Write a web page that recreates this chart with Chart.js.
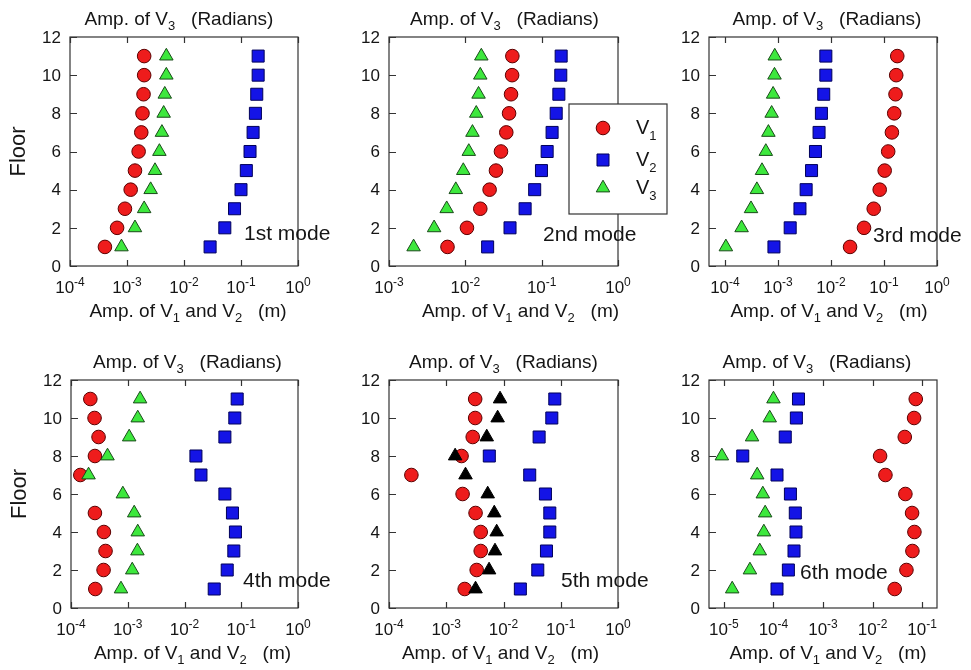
<!DOCTYPE html>
<html>
<head>
<meta charset="utf-8">
<script src="https://cdn.jsdelivr.net/npm/chart.js@4/dist/chart.umd.min.js"></script>
<style>
	html, body { margin: 0; padding: 0; background: #fff; overflow: hidden; }
	#wrap { position: relative; width: 971px; height: 670px; }
	canvas { position: absolute; }
</style>
</head>
<body>
<div id="wrap"></div>
<script>
// floors, bottom to top
const floors = [1, 2, 3, 4, 5, 6, 7, 8, 9, 10, 11]

// 1st mode
const m1V1 = [4.1e-4, 6.7e-4, 9.2e-4, 1.16e-3, 1.38e-3, 1.6e-3, 1.78e-3, 1.87e-3, 1.95e-3, 2.0e-3, 2.0e-3]
const m1V2 = [0.0287, 0.052, 0.077, 0.100, 0.124, 0.144, 0.163, 0.179, 0.189, 0.200, 0.200]
const m1V3 = [8.0e-4, 1.38e-3, 2.0e-3, 2.6e-3, 3.1e-3, 3.7e-3, 4.1e-3, 4.4e-3, 4.6e-3, 4.9e-3, 4.9e-3]

// 2nd mode
const m2V1 = [0.00584, 0.0105, 0.0157, 0.0208, 0.0252, 0.0293, 0.0344, 0.0374, 0.0397, 0.041, 0.0413]
const m2V2 = [0.0196, 0.0385, 0.0607, 0.081, 0.0994, 0.118, 0.137, 0.155, 0.168, 0.178, 0.180]
const m2V3 = [0.0021, 0.0039, 0.0057, 0.0075, 0.0094, 0.0111, 0.0124, 0.0139, 0.0149, 0.0157, 0.0162]

// 3rd mode
const m3V1 = [0.0229, 0.042, 0.064, 0.083, 0.103, 0.12, 0.141, 0.156, 0.165, 0.17, 0.178]
const m3V2 = [8.4e-4, 1.7e-3, 2.6e-3, 3.4e-3, 4.3e-3, 5.1e-3, 5.96e-3, 6.6e-3, 7.3e-3, 8.0e-3, 8.0e-3]
const m3V3 = [1.04e-4, 2.06e-4, 3.1e-4, 4.0e-4, 5.0e-4, 5.9e-4, 6.6e-4, 7.6e-4, 8.1e-4, 8.6e-4, 8.7e-4]

// 4th mode (floor 6 V1 is off the scale)
const m4V1 = [2.68e-4, 3.75e-4, 4.06e-4, 3.8e-4, 2.64e-4, null, 1.46e-4, 2.64e-4, 3.06e-4, 2.6e-4, 2.19e-4]
const m4V2 = [0.0334, 0.0566, 0.074, 0.079, 0.070, 0.0515, 0.0195, 0.0159, 0.0515, 0.077, 0.0848]
const m4V3 = [7.6e-4, 1.2e-3, 1.48e-3, 1.5e-3, 1.3e-3, 8.2e-4, 2.04e-4, 4.4e-4, 1.06e-3, 1.5e-3, 1.65e-3]

// 5th mode
const m5V1 = [2.1e-3, 3.4e-3, 4.0e-3, 4.0e-3, 3.25e-3, 1.93e-3, 2.46e-4, 1.85e-3, 2.9e-3, 3.2e-3, 3.2e-3]
const m5V2 = [0.0197, 0.0397, 0.0563, 0.0644, 0.0644, 0.054, 0.0287, 5.65e-3, 0.0419, 0.0698, 0.0787]
const m5V3 = [3.25e-3, 5.6e-3, 7.1e-3, 7.6e-3, 6.9e-3, 5.3e-3, 2.17e-3, 1.43e-3, 5.1e-3, 7.9e-3, 8.7e-3]

// 6th mode
const m6V1 = [0.028, 0.0483, 0.0638, 0.07, 0.0628, 0.046, 0.0182, 0.0142, 0.0447, 0.069, 0.0745]
const m6V2 = [1.18e-4, 2.0e-4, 2.6e-4, 2.85e-4, 2.76e-4, 2.2e-4, 1.18e-4, 2.4e-5, 1.73e-4, 2.9e-4, 3.2e-4]
const m6V3 = [1.47e-5, 3.35e-5, 5.3e-5, 6.4e-5, 6.8e-5, 6.1e-5, 4.7e-5, 9.1e-6, 3.7e-5, 8.4e-5, 1.0e-4]

const v1Series = [m1V1, m2V1, m3V1, m4V1, m5V1, m6V1]
const v2Series = [m1V2, m2V2, m3V2, m4V2, m5V2, m6V2]
const v3Series = [m1V3, m2V3, m3V3, m4V3, m5V3, m6V3]

const modeNames = ["1st mode", "2nd mode", "3rd mode", "4th mode", "5th mode", "6th mode"]
const xMins = [1e-4, 1e-3, 5e-5, 1e-4, 1e-4, 5e-6]
const xMaxs = [1, 1, 1, 1, 1, 0.2]
const xTickExps = [
	[-4, -3, -2, -1, 0],
	[-3, -2, -1, 0],
	[-4, -3, -2, -1, 0],
	[-4, -3, -2, -1, 0],
	[-4, -3, -2, -1, 0],
	[-5, -4, -3, -2, -1]
]
const yTickLabels = [0, 2, 4, 6, 8, 10, 12]
const legendLabels = ["1", "2", "3"] // subscripts of V

// layout: plot boxes [left, top, right, bottom] in page pixels
const plotBoxes = [
	[70, 37, 298, 266], [389, 37, 618, 266], [709, 37, 937, 266],
	[71, 380, 298, 608], [389, 380, 618, 608], [709, 380, 937, 608]
]
const topTitleShift = [-5, 1, 4, 3, 0, -6]
const bottomTitleShift = [4, 17, 6, 8, -3, 5]
const modeLabelPos = [[54, 26], [75, 25], [64, 24], [55, 21], [57, 21], [137, 29]] // from right, from bottom

const FONT = '"Liberation Sans", Arial, sans-serif'
const INK = "#151515"
const CANVAS_W = 350
const CANVAS_H = 324

const RED = { fill: "#ee1c1c", line: "#5a0000" }
const BLUE = { fill: "#1414e6", line: "#00005a" }
const GREEN = { fill: "#3de83d", line: "#1a4a1a" }
const BLACK = { fill: "#000000", line: "#000000" }

function toPoints(values) {
	let pts = []
	values.forEach((v, k) => {
		if (v !== null) pts.push({ x: v, y: floors[k] })
	})
	return pts
}

// draws text made of pieces, some of them sub/superscripts
function richText(ctx, parts, x, y, align) {
	let total = 0
	parts.forEach(p => {
		ctx.font = p.size + "px " + FONT
		p.w = ctx.measureText(p.text).width
		total += p.w
	})
	let cx = align === "center" ? x - total / 2 : (align === "right" ? x - total : x)
	ctx.textAlign = "left"
	ctx.textBaseline = "alphabetic"
	parts.forEach(p => {
		ctx.font = p.size + "px " + FONT
		ctx.fillText(p.text, cx, y + (p.dy || 0))
		cx += p.w
	})
}

function decorFor(i) {
	return {
		id: "decor" + i,
		beforeDatasetsDraw(chart) {
			const { ctx, chartArea: a, scales: { x, y } } = chart
			ctx.save()
			ctx.strokeStyle = "#333"
			ctx.lineWidth = 1.2
			ctx.strokeRect(a.left, a.top, a.right - a.left, a.bottom - a.top)
			ctx.beginPath()
			xTickExps[i].forEach(e => {
				const px = Math.round(x.getPixelForValue(Math.pow(10, e))) + 0.5
				ctx.moveTo(px, a.bottom)
				ctx.lineTo(px, a.bottom - 6)
				ctx.moveTo(px, a.top)
				ctx.lineTo(px, a.top + 6)
			})
			yTickLabels.forEach(v => {
				const py = Math.round(y.getPixelForValue(v)) + 0.5
				ctx.moveTo(a.left, py)
				ctx.lineTo(a.left + 7, py)
			})
			ctx.stroke()
			ctx.restore()
		},
		afterDraw(chart) {
			const { ctx, chartArea: a, scales: { x, y } } = chart
			ctx.save()
			ctx.fillStyle = INK

			// y tick labels
			ctx.font = "17px " + FONT
			ctx.textAlign = "right"
			ctx.textBaseline = "middle"
			yTickLabels.forEach(v => {
				ctx.fillText(String(v), a.left - 9, y.getPixelForValue(v) + 1)
			})

			// x tick labels 10^n
			xTickExps[i].forEach(e => {
				const px = x.getPixelForValue(Math.pow(10, e))
				richText(ctx, [
					{ text: "10", size: 17 },
					{ text: e === 0 ? "0" : "-" + Math.abs(e), size: 12, dy: -7 }
				], px, a.bottom + 27, "center")
			})

			const cx = (a.left + a.right) / 2
			// top axis title
			richText(ctx, [
				{ text: "Amp. of V", size: 19 },
				{ text: "3", size: 13, dy: 5 },
				{ text: "   (Radians)", size: 19 }
			], cx + topTitleShift[i], a.top - 12, "center")

			// bottom axis title
			richText(ctx, [
				{ text: "Amp. of V", size: 19 },
				{ text: "1", size: 13, dy: 5 },
				{ text: " and V", size: 19 },
				{ text: "2", size: 13, dy: 5 },
				{ text: "   (m)", size: 19 }
			], cx + bottomTitleShift[i], a.bottom + 51, "center")

			// y axis title on the left column
			if (i % 3 === 0) {
				ctx.save()
				ctx.translate(a.left - 51, (a.top + a.bottom) / 2)
				ctx.rotate(-Math.PI / 2)
				ctx.font = "22px " + FONT
				ctx.textAlign = "center"
				ctx.textBaseline = "middle"
				ctx.fillText("Floor", 0, 0)
				ctx.restore()
			}

			// mode label
			ctx.font = "21px " + FONT
			ctx.textAlign = "left"
			ctx.textBaseline = "alphabetic"
			ctx.fillText(modeNames[i], a.right - modeLabelPos[i][0], a.bottom - modeLabelPos[i][1])

			// legend, only in the 2nd mode panel
			if (i === 1) {
				const bx = a.left + 180, by = a.top + 67
				ctx.fillStyle = "#fff"
				ctx.fillRect(bx, by, 98, 110)
				ctx.strokeStyle = "#333"
				ctx.lineWidth = 1.2
				ctx.strokeRect(bx, by, 98, 110)
				const rows = [91, 123, 151]
				chart.data.datasets.forEach((ds, k) => {
					const ry = a.top + rows[k]
					ctx.fillStyle = ds.backgroundColor
					ctx.strokeStyle = ds.borderColor
					ctx.lineWidth = ds.borderWidth
					Chart.helpers.drawPoint(ctx, {
						pointStyle: ds.pointStyle,
						radius: ds.pointRadius,
						rotation: 0,
						borderWidth: ds.borderWidth
					}, a.left + 214, ry)
					ctx.fillStyle = INK
					richText(ctx, [
						{ text: "V", size: 20 },
						{ text: legendLabels[k], size: 13, dy: 6 }
					], a.left + 247, ry + 6, "left")
				})
			}
			ctx.restore()
		}
	}
}

const wrap = document.getElementById("wrap")

for (let i = 0; i < 6; i++) {
	const [l, t, r, b] = plotBoxes[i]
	const canvas = document.createElement("canvas")
	canvas.width = CANVAS_W
	canvas.height = CANVAS_H
	canvas.style.width = CANVAS_W + "px"
	canvas.style.height = CANVAS_H + "px"
	canvas.style.left = (l - 70) + "px"
	canvas.style.top = (t - 37) + "px"
	wrap.appendChild(canvas)

	const v3Color = i === 4 ? BLACK : GREEN

	new Chart(canvas, {
		type: "scatter",
		data: {
			datasets: [
				{
					label: "V1",
					data: toPoints(v1Series[i]),
					pointStyle: "circle",
					pointRadius: 6.8,
					pointHoverRadius: 6.8,
					backgroundColor: RED.fill,
					borderColor: RED.line,
					borderWidth: 1,
					clip: false,
					order: 3
				},
				{
					label: "V2",
					data: toPoints(v2Series[i]),
					pointStyle: "rect",
					pointRadius: 8.5,
					pointHoverRadius: 8.5,
					backgroundColor: BLUE.fill,
					borderColor: BLUE.line,
					borderWidth: 1,
					clip: false,
					order: 2
				},
				{
					label: "V3",
					data: toPoints(v3Series[i]),
					pointStyle: "triangle",
					pointRadius: 7.8,
					pointHoverRadius: 7.8,
					backgroundColor: v3Color.fill,
					borderColor: v3Color.line,
					borderWidth: 1,
					clip: false,
					order: 1
				}
			]
		},
		options: {
			responsive: false,
			animation: false,
			layout: {
				padding: {
					left: 70,
					top: 37,
					right: CANVAS_W - 70 - (r - l),
					bottom: CANVAS_H - 37 - (b - t)
				}
			},
			scales: {
				x: { type: "logarithmic", min: xMins[i], max: xMaxs[i], display: false },
				y: { type: "linear", min: 0, max: 12, display: false }
			},
			plugins: {
				legend: { display: false },
				tooltip: { enabled: false }
			}
		},
		plugins: [decorFor(i)]
	})
}
</script>
</body>
</html>
